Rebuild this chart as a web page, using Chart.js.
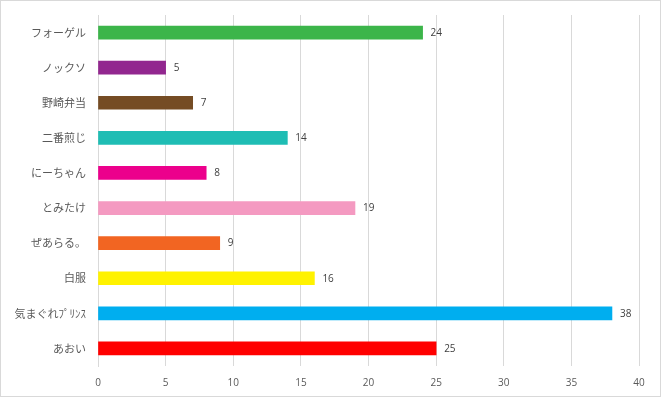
<!DOCTYPE html>
<html>
<head>
<meta charset="utf-8">
<script src="https://cdn.jsdelivr.net/npm/chart.js@4/dist/chart.umd.min.js"></script>
<style>
html,body{margin:0;padding:0;background:#fff;}
#wrap{width:661px;height:397px;border:1px solid #d9d9d9;box-sizing:border-box;position:relative;}
canvas{display:block;}
</style>
</head>
<body>
<div id="wrap"><canvas id="c" width="659" height="395"></canvas></div>
<script>
const categories = ['フォーゲル','ノックソ','野崎弁当','二番煎じ','にーちゃん','とみたけ','ぜあらる。','白服','気まぐれﾌﾟﾘﾝｽ','あおい'];
const values = [24, 5, 7, 14, 8, 19, 9, 16, 38, 25];
const barColors = ['#3cb54a','#92278f','#754c24','#1fbdb4','#ec008c','#f49ac1','#f26522','#fff200','#00aeef','#ff0000'];
const xTicks = [0,5,10,15,20,25,30,35,40];

const valueLabels = {
  id: 'valueLabels',
  afterDatasetsDraw(chart) {
    const ctx = chart.ctx;
    const meta = chart.getDatasetMeta(0);
    ctx.save();
    ctx.font = '10px "Open Sans", "DejaVu Sans", sans-serif';
    ctx.fillStyle = '#404040';
    ctx.textBaseline = 'middle';
    ctx.textAlign = 'left';
    meta.data.forEach((bar, i) => {
      ctx.fillText(String(values[i]), bar.x + 8, bar.y + 0.5);
    });
    ctx.restore();
  }
};

new Chart(document.getElementById('c'), {
  type: 'bar',
  data: {
    labels: categories,
    datasets: [{
      data: values,
      backgroundColor: barColors,
      borderWidth: 0,
      barThickness: 13
    }]
  },
  options: {
    indexAxis: 'y',
    responsive: false,
    animation: false,
    devicePixelRatio: 1,
    layout: { padding: { top: 14, right: 21, bottom: 0, left: 0 } },
    plugins: { legend: { display: false }, tooltip: { enabled: false } },
    scales: {
      x: {
        min: 0, max: 40,
        afterBuildTicks(scale) { scale.ticks = xTicks.map(v => ({ value: v })); },
        afterFit(scale) { scale.height = 30; },
        grid: { color: '#d9d9d9', lineWidth: 1, drawTicks: false },
        border: { display: false },
        ticks: {
          color: '#595959',
          padding: 11,
          font: { size: 10, family: '"Open Sans", "DejaVu Sans", sans-serif' }
        }
      },
      y: {
        afterFit(scale) { scale.width = 97; scale.paddingTop = 0; scale.paddingBottom = 0; },
        grid: { display: false, drawTicks: false },
        border: { display: true, color: '#d9d9d9', width: 1 },
        ticks: {
          color: '#595959',
          padding: 12,
          font: { size: 11, family: '"Noto Sans CJK JP", sans-serif' }
        }
      }
    }
  },
  plugins: [valueLabels]
});
</script>
</body>
</html>
